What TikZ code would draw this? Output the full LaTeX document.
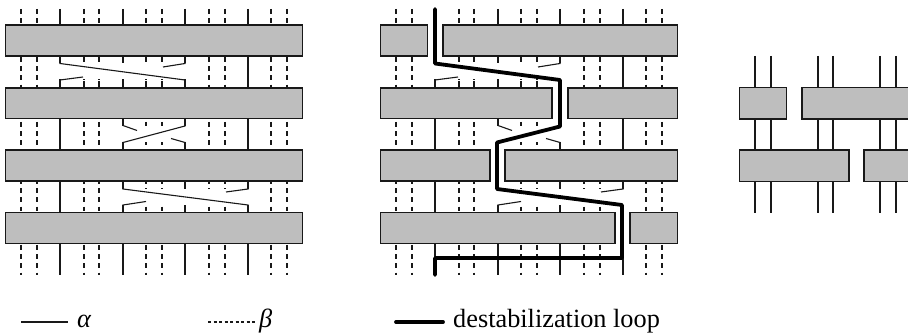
\documentclass[tikz,border=0pt]{standalone}
\usepackage{fontspec}
\setmainfont{Liberation Serif}
\definecolor{boxgray}{HTML}{BEBEBE}
\tikzset{
  band/.style={draw=black!90,fill=boxgray,line width=1.25pt},
  solidstrand/.style={draw=black!90,line width=1.1pt},
  dashstrand/.style={draw=black!90,line width=1.1pt,dash pattern=on 4.8pt off 4.4pt},
  mask/.style={fill=white,draw=none},
  thickloop/.style={draw=black,line width=3.8pt,line join=round,line cap=round},
  legendtext/.style={inner sep=0pt,anchor=base west,font=\fontsize{26.3}{30}\selectfont}
}
\newcommand{\strandset}{%
  \foreach \sx in {21,37,84,99,146,162,209,225,271,287}
    \foreach \ya/\yb in {9/26,57/89,122/151,179/213,245/275.5}
      \draw[dashstrand] (\sx,\ya) -- (\sx,\yb);
  \foreach \sx in {60,123,185,248}
    \draw[solidstrand] (\sx,9) -- (\sx,275);
  \fill[mask] (59,63.5) rectangle (186,79.5);
  \fill[mask] (122,126) rectangle (186,142.5);
  \fill[mask] (122,189) rectangle (249,205);
  \foreach \sx in {84,99,146,162}
    \draw[solidstrand] (\sx,81) -- (\sx,87);
  \draw[solidstrand] (185,60) -- (185,63.5) -- (163,67);
  \draw[solidstrand] (60,85) -- (60,80) -- (83,77);
  \draw[solidstrand] (123,120) -- (123,125.5) -- (137,130.5);
  \draw[solidstrand] (185,148) -- (185,142.5) -- (171,138.5);
  \draw[solidstrand] (248,185) -- (248,189) -- (226,192);
  \draw[solidstrand] (123,210) -- (123,205) -- (146,201.5);
}
\begin{document}
\begin{tikzpicture}[x=1pt,y=-1pt]
\clip (0,0) rectangle (908,336);
\fill[white] (0,0) rectangle (908,336);
% left panel
\strandset
\draw[solidstrand] (60,60) -- (60,63.5) -- (185,80) -- (185,85);
\draw[solidstrand] (185,120) -- (185,126) -- (123,142.5) -- (123,148);
\draw[solidstrand] (123,185) -- (123,189) -- (248,205) -- (248,210);
\foreach \ya/\yb in {25/56,88/118.5,150/181,212.5/243.5}
  \draw[band] (5.5,\ya) rectangle (302.5,\yb);
% middle panel
\begin{scope}[xshift=375pt]
\strandset
\end{scope}
\foreach \xa/\xb/\ya/\yb in {380.5/427.5/25/56,443/677.5/25/56,
  380.5/552/88/118.5,568/677.5/88/118.5,
  380.5/490/150/181,505/677.5/150/181,
  380.5/615/212.5/243.5,630/677.5/212.5/243.5}
  \draw[band] (\xa,\ya) rectangle (\xb,\yb);
\coordinate (t0) at (435,9);
\coordinate (t1) at (435,63.5);
\coordinate (t2) at (560,80);
\coordinate (t3) at (560,126.5);
\coordinate (t4) at (497,142.5);
\coordinate (t5) at (497,189);
\coordinate (t6) at (622,205);
\coordinate (t7) at (622,258);
\coordinate (t8) at (435,258);
\coordinate (t9) at (435,275);
\draw[thickloop] (t0) -- (t1) -- (t2) -- (t3) -- (t4) -- (t5) -- (t6) -- (t7) -- (t8) -- (t9);
% right panel
\foreach \sx in {755,771,818,833,880,896}
  \draw[solidstrand] (\sx,56) -- (\sx,213);
\foreach \xa/\xb/\ya/\yb in {739.5/786.5/87.5/119,802/915/87.5/119,
  739.5/849/150/181.5,864/915/150/181.5}
  \draw[band] (\xa,\ya) rectangle (\xb,\yb);
% legend
\coordinate (la) at (21,322); \coordinate (lb) at (68,322);
\draw[solidstrand] (la) -- (lb);
\node[legendtext] (alpha) at (77,328) {\itshape α};
\coordinate (lc) at (208,322); \coordinate (ld) at (256,322);
\draw[solidstrand,dash pattern=on 3.3pt off 2.2pt] (lc) -- (ld);
\node[legendtext] (beta) at (259,328) {\itshape β};
\coordinate (le) at (396,322); \coordinate (lf) at (443,322);
\draw[thickloop] (le) -- (lf);
\node[legendtext] (dest) at (453,328) {destabilization loop};
\end{tikzpicture}
\end{document}
